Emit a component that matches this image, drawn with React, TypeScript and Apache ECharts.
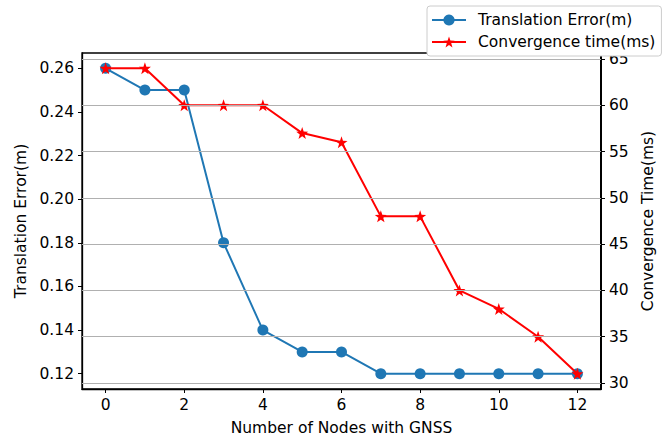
import React, { useEffect, useRef } from "react";
import * as echarts from "echarts";

const nodes = [0, 1, 2, 3, 4, 5, 6, 7, 8, 9, 10, 11, 12];
const translationError = [0.26, 0.25, 0.25, 0.18, 0.14, 0.13, 0.13, 0.12, 0.12, 0.12, 0.12, 0.12, 0.12];
const convergenceTime = [64, 64, 60, 60, 60, 57, 56, 48, 48, 40, 38, 35, 31];
const xTicks = [0, 2, 4, 6, 8, 10, 12];
const leftTicks = [0.12, 0.14, 0.16, 0.18, 0.2, 0.22, 0.24, 0.26];
const rightTicks = [30, 35, 40, 45, 50, 55, 60, 65];

const FONT = "DejaVu Sans";
const FS = 15.5;

export default function App() {
  const ref = useRef<HTMLDivElement>(null);
  useEffect(() => {
    const chart = echarts.init(ref.current!, null, { renderer: "svg" });
    const tickStyle = { show: true, length: 4, lineStyle: { color: "#000", width: 1 } };
    const labelStyle = { color: "#000", fontFamily: FONT, fontSize: FS };
    chart.setOption({
      animation: false,
      backgroundColor: "#fff",
      textStyle: { fontFamily: FONT },
      grid: {
        left: 82, right: 66, top: 53, bottom: 49,
        outerBoundsMode: "none",
        containLabel: false,
        show: true, borderColor: "#000", borderWidth: 1.3, backgroundColor: "transparent",
      },
      legend: {
        orient: "vertical",
        left: 427, top: 6,
        itemWidth: 34, itemHeight: 14, itemGap: 6,
        padding: [6, 6, 6, 4],
        backgroundColor: "#fff",
        borderColor: "#cccccc", borderWidth: 1, borderRadius: 3,
        textStyle: { fontFamily: FONT, fontSize: FS, lineHeight: 16, color: "#000", padding: [0, 0, 0, 7] },
        data: ["Translation Error(m)", "Convergence time(ms)"],
      },
      xAxis: {
        type: "value",
        min: -0.6, max: 12.6,
        name: "Number of Nodes with GNSS",
        nameLocation: "middle", nameGap: 31,
        nameTextStyle: { ...labelStyle },
        axisLine: { show: true, onZero: false, lineStyle: { color: "#000", width: 1.3 } },
        axisTick: { ...tickStyle, customValues: xTicks },
        axisLabel: { ...labelStyle, margin: 8, customValues: xTicks, formatter: (v: number) => String(v) },
        splitLine: { show: false },
      },
      yAxis: [
        {
          type: "value",
          min: 0.113, max: 0.267,
          name: "Translation Error(m)",
          nameLocation: "middle", nameGap: 50, nameRotate: 90,
          nameTextStyle: { ...labelStyle },
          axisLine: { show: true, onZero: false, lineStyle: { color: "#000", width: 1.3 } },
          axisTick: { ...tickStyle, customValues: leftTicks },
          axisLabel: { ...labelStyle, margin: 8, customValues: leftTicks, formatter: (v: number) => v.toFixed(2) },
          splitLine: { show: false },
        },
        {
          type: "value",
          position: "right",
          min: 29.35, max: 65.65,
          name: "Convergence Time(ms)",
          nameLocation: "middle", nameGap: 37, nameRotate: 90,
          nameTextStyle: { ...labelStyle },
          axisLine: { show: true, onZero: false, lineStyle: { color: "#000", width: 2 } },
          axisTick: { ...tickStyle, customValues: rightTicks },
          axisLabel: { ...labelStyle, margin: 8, customValues: rightTicks, formatter: (v: number) => String(v) },
          splitLine: { show: false },
        },
      ],
      series: [
        {
          name: "grid",
          type: "line",
          yAxisIndex: 1,
          data: [],
          silent: true,
          z: 1,
          markLine: {
            silent: true,
            symbol: "none",
            label: { show: false },
            lineStyle: { color: "#b0b0b0", width: 1, type: "solid" },
            data: rightTicks.map((v) => ({ yAxis: v })),
          },
        },
        {
          name: "Translation Error(m)",
          type: "line",
          yAxisIndex: 0,
          data: nodes.map((x, i) => [x, translationError[i]]),
          symbol: "circle",
          symbolSize: 11,
          itemStyle: { color: "#1f77b4" },
          lineStyle: { color: "#1f77b4", width: 2 },
          z: 3,
        },
        {
          name: "Convergence time(ms)",
          type: "line",
          yAxisIndex: 1,
          data: nodes.map((x, i) => [x, convergenceTime[i]]),
          symbol: "path://M0,-10 L2.35,-3.24 L9.51,-3.09 L3.8,1.24 L5.88,8.09 L0,4 L-5.88,8.09 L-3.8,1.24 L-9.51,-3.09 L-2.35,-3.24 Z",
          symbolSize: 12,
          itemStyle: { color: "#ff0000" },
          lineStyle: { color: "#ff0000", width: 2 },
          z: 4,
        },
      ],
    });
    return () => chart.dispose();
  }, []);
  return <div ref={ref} style={{ width: 667, height: 438, position: "absolute", left: 0, top: 0 }} />;
}
